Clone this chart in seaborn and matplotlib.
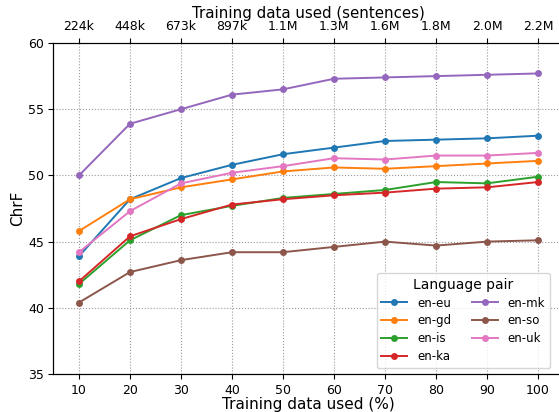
import pandas as pd
import matplotlib
matplotlib.use('Agg')
import matplotlib.pyplot as plt
import seaborn as sns

# Data
pct = [10, 20, 30, 40, 50, 60, 70, 80, 90, 100]
sentences = ['224k', '448k', '673k', '897k', '1.1M', '1.3M', '1.6M', '1.8M', '2.0M', '2.2M']

en_eu = [43.9, 48.2, 49.8, 50.8, 51.6, 52.1, 52.6, 52.7, 52.8, 53.0]
en_gd = [45.8, 48.2, 49.1, 49.7, 50.3, 50.6, 50.5, 50.7, 50.9, 51.1]
en_is = [41.8, 45.1, 47.0, 47.7, 48.3, 48.6, 48.9, 49.5, 49.4, 49.9]
en_ka = [42.0, 45.4, 46.7, 47.8, 48.2, 48.5, 48.7, 49.0, 49.1, 49.5]
en_mk = [50.0, 53.9, 55.0, 56.1, 56.5, 57.3, 57.4, 57.5, 57.6, 57.7]
en_so = [40.4, 42.7, 43.6, 44.2, 44.2, 44.6, 45.0, 44.7, 45.0, 45.1]
en_uk = [44.2, 47.3, 49.4, 50.2, 50.7, 51.3, 51.2, 51.5, 51.5, 51.7]

series = {'en-eu': en_eu, 'en-gd': en_gd, 'en-is': en_is, 'en-ka': en_ka,
          'en-mk': en_mk, 'en-so': en_so, 'en-uk': en_uk}

df = pd.DataFrame([
    {'pct': p, 'chrf': v, 'Language pair': k}
    for k, vals in series.items() for p, v in zip(pct, vals)
])

fig, ax = plt.subplots(figsize=(5.59, 4.12), dpi=100)

sns.lineplot(data=df, x='pct', y='chrf', hue='Language pair', marker='o',
             markersize=5, markeredgewidth=0, linewidth=1.4, palette='tab10', ax=ax)

ax.set_xlim(5, 105)
ax.set_ylim(35, 60)
ax.set_xticks(pct)
ax.set_yticks([35, 40, 45, 50, 55, 60])
ax.tick_params(labelsize=9)
ax.set_xlabel('Training data used (%)', fontsize=11, labelpad=0.5)
ax.set_ylabel('ChrF', fontsize=11, labelpad=2)
ax.grid(True, linestyle=':', color='0.6', linewidth=0.8)

# Top axis: number of sentences
ax2 = ax.twiny()
ax2.set_xlim(ax.get_xlim())
ax2.set_xticks(pct)
ax2.set_xticklabels(sentences)
ax2.tick_params(labelsize=9)
ax2.set_xlabel('Training data used (sentences)', fontsize=10.8, labelpad=2)

ax.legend(title='Language pair', ncol=2, loc='lower right', fontsize=8.5,
          title_fontsize=10, handlelength=2.2, columnspacing=1.8,
          labelspacing=0.42, borderaxespad=0.5, bbox_to_anchor=(0.985, 0.0))

fig.subplots_adjust(left=0.0957, right=1.008, top=0.8956, bottom=0.0922)
plt.savefig('out.png', dpi=100)
